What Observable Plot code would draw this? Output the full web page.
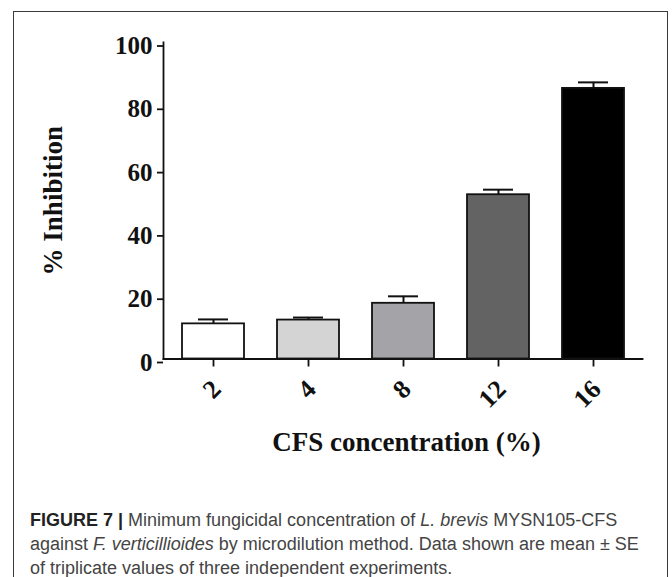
<!DOCTYPE html>
<html>
<head>
<meta charset="utf-8">
<script src="https://cdn.jsdelivr.net/npm/d3@7"></script>
<script src="https://cdn.jsdelivr.net/npm/@observablehq/plot@0.6"></script>
<style>
  html, body { margin: 0; padding: 0; background: #fff; }
  #page { position: relative; width: 672px; height: 577px; overflow: hidden; }
  #frame { position: absolute; left: 13px; top: 11px; width: 655px; height: 600px;
           border: 1.5px solid #3a3a3a; box-sizing: border-box; }
  #chart { position: absolute; left: 0; top: 0; }
  #caption { position: absolute; left: 30px; top: 508px; width: 635px; white-space: nowrap;
             font-family: "Liberation Sans", Arial, sans-serif; font-size: 18px;
             line-height: 24px; color: #444; }
  #caption b { color: #222; }
</style>
</head>
<body>
<div id="page">
  <div id="frame"></div>
  <div id="chart"></div>
  <div id="caption"><b>FIGURE 7 |</b> Minimum fungicidal concentration of <i>L. brevis</i> MYSN105-CFS<br>against <i>F. verticillioides</i> by microdilution method. Data shown are mean ± SE<br>of triplicate values of three independent experiments.</div>
</div>
<script>
const categories = ["2", "4", "8", "12", "16"];
const means = [11.1, 12.3, 17.6, 51.9, 85.5];
const errors = [1.4, 0.8, 2.2, 1.6, 1.9];
const fills = ["#ffffff", "#d4d4d4", "#a3a3a8", "#636363", "#000000"];
const yTicks = [0, 20, 40, 60, 80, 100];
const yTitle = "% Inhibition";
const xTitle = "CFS concentration (%)";

const data = categories.map((c, i) => ({c, m: means[i], e: errors[i], f: fills[i], hi: means[i] + errors[i]}));

const serif = "'Liberation Serif', 'Times New Roman', serif";

const chart = Plot.plot({
  width: 672,
  height: 470,
  marginLeft: 163,
  marginRight: 30,
  marginTop: 42,
  marginBottom: 111.5,
  style: {fontFamily: serif, fontWeight: "bold", background: "transparent", color: "#111"},
  x: {type: "band", domain: categories, paddingInner: 0.35, paddingOuter: 0.19},
  y: {domain: [0, 100]},
  marks: [
    Plot.ruleX(data, {x: "c", y1: "m", y2: "hi", stroke: "#111", strokeWidth: 2}),
    Plot.tickY(data, {x: "c", y: "hi", stroke: "#111", strokeWidth: 2, insetLeft: 16, insetRight: 16}),
    Plot.barY(data, {x: "c", y: "m", fill: "f", stroke: "#111", strokeWidth: 1.8}),
    Plot.frame({anchor: "left", stroke: "#111", strokeWidth: 1.8}),
    Plot.frame({anchor: "bottom", stroke: "#111", strokeWidth: 1.8}),
    Plot.axisY({ticks: yTicks, tickSize: 6, tickPadding: 5, fontSize: 25, dy: 3.5, label: null, stroke: "#111", strokeWidth: 1.8}),
    Plot.axisX({tickSize: 8, tickFormat: null, label: null, stroke: "#111", strokeWidth: 1.8}),
    Plot.text(categories, {x: d => d, frameAnchor: "bottom", rotate: -45, textAnchor: "end", lineAnchor: "middle", dx: 3, dy: 26, fontSize: 26, fill: "#111"}),
    Plot.text([yTitle], {frameAnchor: "left", rotate: -90, textAnchor: "middle", lineAnchor: "middle", dx: -110, fontSize: 27, fill: "#111"}),
    Plot.text([xTitle], {frameAnchor: "bottom", textAnchor: "middle", lineAnchor: "bottom", dx: 3.5, dy: 91.5, fontSize: 27, fill: "#111"})
  ]
});
document.getElementById("chart").appendChild(chart);
</script>
</body>
</html>
